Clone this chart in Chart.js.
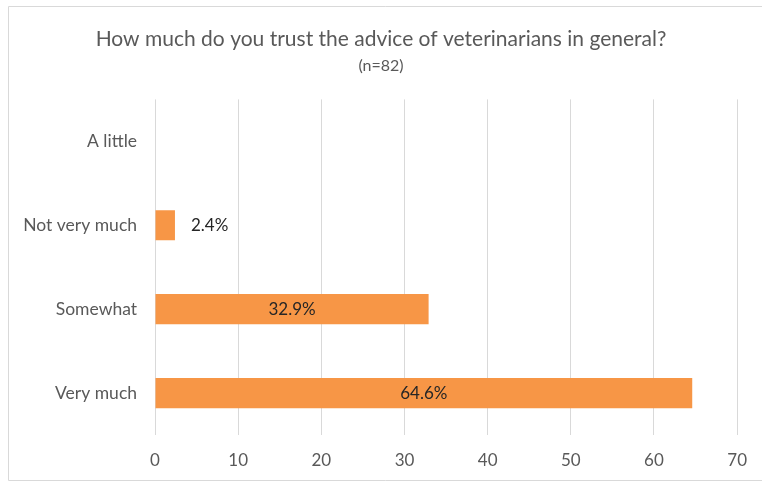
<!DOCTYPE html>
<html>
<head>
<meta charset="utf-8">
<script src="https://cdn.jsdelivr.net/npm/chart.js@4/dist/chart.umd.min.js"></script>
<style>
  html, body { margin: 0; padding: 0; background: #fff; overflow: hidden; }
</style>
</head>
<body>
<canvas id="trustChart" width="762" height="482"></canvas>
<script>
const categories = ['A little', 'Not very much', 'Somewhat', 'Very much'];
const percents = [0, 2.4, 32.9, 64.6];
const xTicks = [0, 10, 20, 30, 40, 50, 60, 70];

const FONT = 'Lato, "Open Sans", sans-serif';
const GREY = '#595959';

// thin outline round the chart (left, top and bottom edges)
const outline = {
  id: 'outline',
  beforeDraw(chart) {
    const ctx = chart.ctx;
    ctx.save();
    ctx.strokeStyle = '#d9d9d9';
    ctx.lineWidth = 1;
    ctx.beginPath();
    ctx.moveTo(chart.width + 1, 6.5);
    ctx.lineTo(8.5, 6.5);
    ctx.lineTo(8.5, 480.5);
    ctx.lineTo(chart.width + 1, 480.5);
    ctx.stroke();
    ctx.restore();
  }
};

// percentage labels: centred inside long bars, just past the end of short ones
const barLabels = {
  id: 'barLabels',
  afterDatasetsDraw(chart) {
    const ctx = chart.ctx;
    const meta = chart.getDatasetMeta(0);
    ctx.save();
    ctx.font = '17px ' + FONT;
    ctx.fillStyle = '#262626';
    ctx.textBaseline = 'middle';
    meta.data.forEach((bar, i) => {
      const v = percents[i];
      if (!v) return;
      const txt = v.toFixed(1) + '%';
      const w = ctx.measureText(txt).width;
      if (bar.x - bar.base > w + 10) {
        ctx.textAlign = 'center';
        ctx.fillText(txt, (bar.x + bar.base) / 2, bar.y);
      } else {
        ctx.textAlign = 'left';
        ctx.fillText(txt, bar.x + 16, bar.y);
      }
    });
    ctx.restore();
  }
};

new Chart(document.getElementById('trustChart'), {
  type: 'bar',
  data: {
    labels: categories,
    datasets: [{
      data: percents,
      backgroundColor: '#F79646',
      borderWidth: 0,
      categoryPercentage: 1,
      barPercentage: 0.36
    }]
  },
  options: {
    indexAxis: 'y',
    responsive: false,
    animation: false,
    layout: { padding: { top: 0, right: 22, bottom: 0, left: 22 } },
    plugins: {
      legend: { display: false },
      tooltip: { enabled: false },
      title: {
        display: true,
        text: 'How much do you trust the advice of veterinarians in general?',
        color: GREY,
        font: { family: FONT, size: 21, weight: 'normal' },
        padding: { top: 27, bottom: 4 }
      },
      subtitle: {
        display: true,
        text: '(n=82)',
        color: GREY,
        font: { family: FONT, size: 16 },
        padding: { top: 0, bottom: 24 }
      }
    },
    scales: {
      x: {
        min: 0,
        max: 70,
        afterBuildTicks(scale) {
          scale.ticks = xTicks.map(v => ({ value: v }));
        },
        afterFit(scale) { scale.height = 47; },
        grid: { color: '#d9d9d9', drawTicks: false },
        border: { display: false },
        ticks: { color: GREY, padding: 15, font: { family: FONT, size: 17 } }
      },
      y: {
        afterFit(scale) { scale.width = 133; },
        grid: { display: false, drawTicks: false },
        border: { display: false },
        ticks: { color: GREY, padding: 18, font: { family: FONT, size: 17.5 } }
      }
    }
  },
  plugins: [outline, barLabels]
});
</script>
</body>
</html>
